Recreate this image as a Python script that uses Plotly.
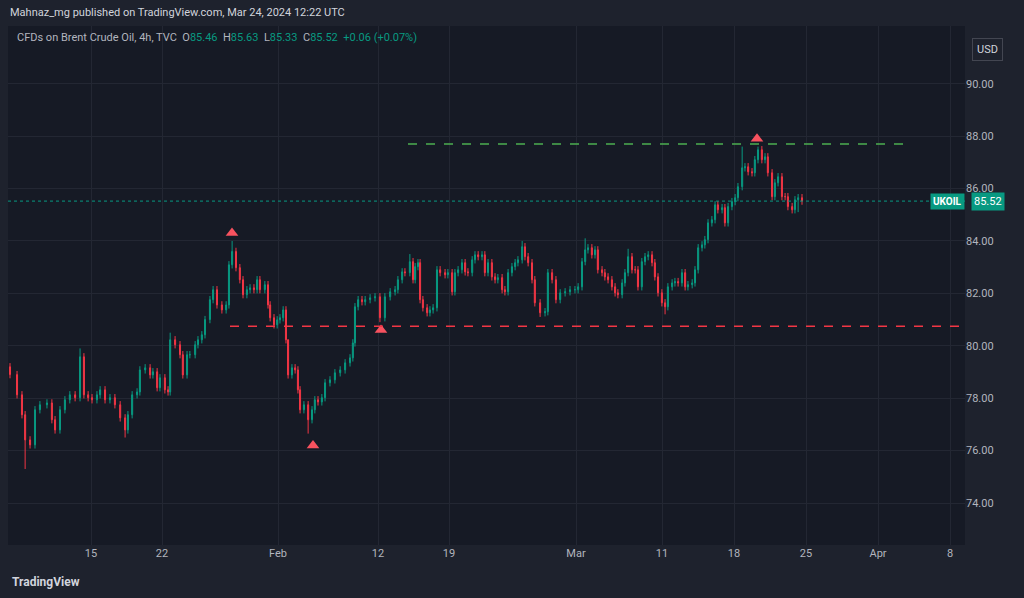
import plotly.graph_objects as go

# 4h candles, UKOIL Jan 8 - Mar 22 2024
# bar_no: position of each sampled candle in the 4h series
bar_no = [
    0, 2.0, 3.4, 4.3, 5.7, 7.1, 8.5, 10.5, 11.9, 12.8,
    14.2, 15.6, 17.0, 18.5, 19.9, 21.0, 22.2, 23.3, 24.7, 25.6,
    27.0, 28.4, 29.8, 31.3, 32.7, 33.5, 34.7, 36.1, 36.9, 38.4,
    39.8, 40.6, 41.8, 42.6, 44.0, 44.9, 45.5, 46.9, 48.3, 49.1,
    50.3, 51.1, 52.6, 53.4, 54.5, 55.4, 56.8, 57.7, 58.8, 60.2,
    61.4, 62.2, 63.1, 64.2, 65.3, 66.2, 67.3, 68.2, 69.3, 70.2,
    71.0, 72.4, 73.3, 73.9, 75.0, 75.9, 76.7, 77.6, 78.4, 79.0,
    80.1, 81.0, 81.8, 82.4, 83.5, 84.7, 85.8, 86.6, 87.5, 88.6,
    89.5, 90.9, 92.3, 93.8, 95.2, 96.6, 97.4, 98.0, 98.9, 100.0,
    100.9, 102.3, 103.7, 105.1, 106.5, 108.0, 109.4, 110.2, 111.4, 112.2,
    113.6, 114.5, 115.1, 115.9, 116.5, 117.3, 118.5, 119.3, 120.2, 121.3,
    122.2, 123.6, 124.4, 125.6, 126.4, 127.3, 128.4, 129.3, 130.1, 131.3,
    132.1, 133.0, 134.1, 134.9, 135.8, 136.9, 137.8, 138.6, 139.8, 140.6,
    141.5, 142.6, 143.5, 144.3, 145.5, 146.3, 147.2, 148.3, 149.1, 150.6,
    152.0, 152.8, 154.0, 155.1, 156.3, 157.7, 159.1, 160.5, 161.4, 162.5,
    163.4, 164.2, 165.3, 166.2, 167.0, 168.2, 169.0, 169.9, 171.0, 171.9,
    172.7, 173.9, 174.7, 175.6, 176.7, 177.6, 178.4, 179.5, 180.4, 181.3,
    182.4, 183.2, 184.1, 185.2, 186.1, 186.9, 188.1, 188.9, 189.8, 190.9,
    191.8, 192.6, 193.8, 194.6, 195.5, 196.6, 197.4, 198.3, 199.4, 200.3,
    201.1, 202.3, 203.1, 204.0, 205.1, 206.0, 206.8, 208.0, 208.8, 209.7,
    210.8, 211.6, 212.5, 213.6, 214.5, 215.3, 216.5, 217.3, 218.2, 219.3,
    220.2, 221.0, 222.2, 223.0, 223.9, 225.0,
]
first_open = 79.2
closes = [
    78.9, 78.13, 77.37, 76.41, 76.22, 77.56, 77.75, 77.82, 77.18, 76.79,
    77.56, 77.94, 78.13, 78.02, 79.58, 78.13, 78.02, 77.94, 78.13, 78.32,
    77.94, 78.02, 77.75, 77.25, 76.79, 77.37, 78.13, 78.24, 79.08, 79.16,
    78.89, 79.01, 78.40, 78.78, 78.32, 78.24, 80.23, 80.04, 79.66, 78.89,
    79.66, 79.66, 80.04, 80.23, 80.42, 81.00, 81.76, 82.14, 81.56, 81.37,
    81.56, 83.09, 83.60, 82.98, 82.52, 81.95, 82.14, 82.21, 82.14, 82.52,
    82.14, 82.33, 81.56, 81.07, 80.80, 80.99, 81.07, 81.37, 80.23, 78.89,
    79.16, 79.08, 78.32, 77.56, 77.75, 77.18, 77.56, 77.94, 77.86, 78.02,
    78.59, 78.70, 78.97, 79.08, 79.35, 79.54, 80.11, 81.49, 81.76, 81.68,
    81.76, 81.83, 81.87, 81.07, 81.87, 82.06, 82.14, 82.52, 82.82, 82.79,
    83.21, 82.52, 83.02, 83.17, 81.76, 81.45, 81.26, 81.37, 81.45, 82.90,
    82.79, 82.71, 82.79, 82.06, 82.79, 82.90, 83.17, 82.82, 82.79, 83.28,
    83.47, 83.40, 83.47, 82.79, 83.17, 82.63, 82.52, 82.60, 82.14, 82.06,
    82.79, 83.02, 83.17, 83.28, 83.78, 83.40, 83.17, 82.52, 81.64, 81.26,
    81.30, 82.79, 82.52, 81.76, 82.02, 82.06, 82.14, 82.14, 82.25, 83.21,
    83.66, 83.74, 83.47, 83.66, 82.90, 82.79, 82.63, 82.52, 82.25, 82.02,
    81.95, 82.40, 82.79, 83.40, 82.90, 82.90, 82.25, 83.21, 83.40, 83.47,
    83.17, 82.63, 82.02, 81.64, 81.49, 82.25, 82.40, 82.45, 82.40, 82.79,
    82.25, 82.33, 82.40, 82.90, 83.74, 83.85, 84.05, 84.69, 84.81, 85.38,
    85.19, 85.27, 84.69, 85.31, 85.50, 85.65, 86.07, 86.79, 86.83, 86.64,
    86.60, 87.10, 87.48, 87.10, 87.21, 86.60, 85.69, 86.22, 86.45, 85.69,
    85.69, 85.31, 85.19, 85.57, 85.65, 85.52,
]
# visible long wicks: candle index -> price
long_highs = {14: 79.9, 36: 80.5, 52: 84.0, 69: 79.4, 100: 83.5, 134: 84.0, 150: 84.1, 163: 83.7, 197: 87.6, 202: 87.6}
long_lows = {3: 75.3, 24: 76.5, 75: 76.65, 93: 80.9, 139: 81.1, 174: 81.2, 214: 85.1}
wick = 0.14

support = 80.75
resistance = 87.7
last_price = 85.52

xtick_px = [91, 162, 278, 378, 449, 576, 662, 734, 806, 878, 950]
xtick_text = ["15", "22", "Feb", "12", "19", "Mar", "11", "18", "25", "Apr", "8"]
yticks = [74, 76, 78, 80, 82, 84, 86, 88, 90]

opens = [first_open] + closes[:-1]
highs = [long_highs.get(i, max(o, c) + wick) for i, (o, c) in enumerate(zip(opens, closes))]
lows = [long_lows.get(i, min(o, c) - wick) for i, (o, c) in enumerate(zip(opens, closes))]

# screen pixel -> bar position (first bar at x=10, 3.52 px per bar)
def px(p):
    return (p - 10) / 3.52

up, down = "#089981", "#f23645"
fig = go.Figure()
fig.add_candlestick(
    x=bar_no, open=opens, high=highs, low=lows, close=closes,
    increasing=dict(line=dict(color=up, width=1), fillcolor=up),
    decreasing=dict(line=dict(color=down, width=1), fillcolor=down),
    whiskerwidth=0, showlegend=False, hoverinfo="skip",
)

# horizontal levels
fig.add_shape(type="line", x0=px(408), x1=px(910), y0=resistance, y1=resistance,
              line=dict(color="#4caf50", width=1.5, dash="dash"))
fig.add_shape(type="line", x0=px(230), x1=px(968), y0=support, y1=support,
              line=dict(color="#f23645", width=1.5, dash="dash"))
fig.add_shape(type="line", xref="paper", x0=0, x1=1, y0=last_price, y1=last_price,
              line=dict(color="#089981", width=1, dash="dot"))

# pivot markers
pivots_x = [px(232), px(757), px(313), px(381)]
pivots_y = [84.3, 87.9, 76.2, 80.6]
fig.add_scatter(x=pivots_x, y=pivots_y,
                mode="markers", marker=dict(symbol="triangle-up", size=11, color="#f7525f"),
                showlegend=False, hoverinfo="skip")

fig.update_layout(
    width=1024, height=598,
    margin=dict(l=8, r=59, t=26, b=53),
    paper_bgcolor="#1e222d", plot_bgcolor="#161a25",
    font=dict(family="Roboto", color="#b2b5be", size=11),
    xaxis=dict(range=[px(8), px(965)], rangeslider=dict(visible=False),
               tickvals=[px(p) for p in xtick_px], ticktext=xtick_text,
               showgrid=True, gridcolor="#232733", zeroline=False, ticks=""),
    yaxis=dict(side="right", range=[72.4, 92.2], tickvals=yticks,
               ticktext=[f"{v:.2f}" for v in yticks], showgrid=True,
               gridcolor="#232733", zeroline=False),
)

# paper coords span the plot area: x 8..965 px, y 26..545 px
def pxx(X):
    return (X - 8) / 957
def pxy(Y):
    return (545 - Y) / 519

ann = [
    dict(x=pxx(8), y=pxy(13), text="Mahnaz_mg published on TradingView.com, Mar 24, 2024 12:22 UTC",
         font=dict(color="#d1d4dc", size=11), xanchor="left"),
    dict(x=pxx(15), y=pxy(38),
         text="CFDs on Brent Crude Oil, 4h, TVC  O<span style='color:#089981'>85.46</span>"
              "  H<span style='color:#089981'>85.63</span>  L<span style='color:#089981'>85.33</span>"
              "  C<span style='color:#089981'>85.52</span>  <span style='color:#089981'>+0.06 (+0.07%)</span>",
         font=dict(color="#b2b5be", size=11), xanchor="left"),
    dict(x=pxx(10), y=pxy(582), text="<b>TradingView</b>", font=dict(color="#d1d4dc", size=12), xanchor="left"),
]
for a in ann:
    fig.add_annotation(xref="paper", yref="paper", showarrow=False, yanchor="middle", **a)

fig.add_annotation(xref="paper", yref="paper", x=pxx(988), y=pxy(38), text="USD", showarrow=False,
                   font=dict(color="#d1d4dc", size=11), bordercolor="#434651", borderwidth=1,
                   borderpad=4, bgcolor="#1e222d", xanchor="center")
fig.add_annotation(xref="paper", x=pxx(947), y=last_price, text="<b>UKOIL</b>", showarrow=False,
                   bgcolor="#089981", font=dict(color="white", size=10), xanchor="center", borderpad=2)
fig.add_annotation(xref="paper", x=pxx(988), y=last_price, text="85.52", showarrow=False,
                   bgcolor="#089981", font=dict(color="white", size=11), xanchor="center", borderpad=2)

fig.write_html("out.html", config={"displayModeBar": False},
               post_script="document.body.style.margin='0';document.body.style.overflow='hidden';")
